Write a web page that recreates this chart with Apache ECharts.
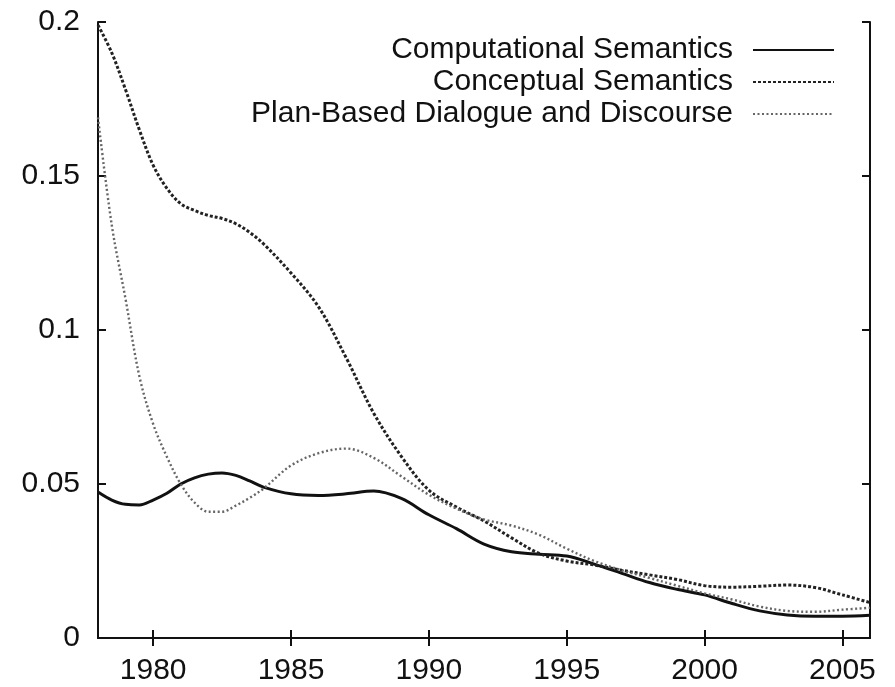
<!DOCTYPE html>
<html>
<head>
<meta charset="utf-8">
<script src="https://cdn.jsdelivr.net/npm/echarts@6/dist/echarts.min.js"></script>
<style>
  html, body { margin: 0; padding: 0; background: #fff; }
  #chart { width: 895px; height: 687px; }
</style>
</head>
<body>
<div id="chart"></div>
<script>
// years sampled along the curves
const years = [1978, 1978.5, 1979, 1979.5, 1980, 1980.5, 1981, 1981.5, 1982, 1982.5, 1983, 1983.5, 1984,
  1985, 1986, 1987, 1988, 1989, 1990, 1991, 1992, 1993, 1994, 1995, 1996, 1997, 1998, 1999, 2000,
  2001, 2002, 2003, 2004, 2005, 2006];
const computational = [0.0474, 0.0448, 0.0434, 0.0432, 0.0448, 0.047, 0.050, 0.052, 0.0532, 0.0536, 0.0528, 0.051, 0.049,
  0.0468, 0.0463, 0.0468, 0.0477, 0.0453, 0.040, 0.0355, 0.0305, 0.028, 0.0272, 0.0266, 0.024, 0.021, 0.018, 0.0158, 0.014,
  0.0112, 0.0088, 0.0075, 0.0071, 0.0071, 0.0074];
const conceptual = [0.199, 0.190, 0.178, 0.165, 0.1535, 0.146, 0.141, 0.1388, 0.1372, 0.1362, 0.1345, 0.1317, 0.128,
  0.1185, 0.1075, 0.091, 0.073, 0.059, 0.048, 0.0425, 0.038, 0.0325, 0.0275, 0.025, 0.0237, 0.022, 0.0205, 0.019, 0.017,
  0.0165, 0.0168, 0.0172, 0.0164, 0.014, 0.0115];
const planBased = [0.169, 0.134, 0.110, 0.085, 0.0695, 0.0588, 0.050, 0.044, 0.041, 0.041, 0.043, 0.0455, 0.0485,
  0.056, 0.060, 0.0615, 0.0585, 0.0525, 0.0465, 0.042, 0.0385, 0.0365, 0.0335, 0.029, 0.025, 0.022, 0.0195, 0.017, 0.0145,
  0.0125, 0.0102, 0.0088, 0.0085, 0.0092, 0.0098];
const seriesNames = ['Computational Semantics', 'Conceptual Semantics', 'Plan-Based Dialogue and Discourse'];
const xTicks = [1980, 1985, 1990, 1995, 2000, 2005];

const pairs = (vals) => years.map((y, i) => [y, vals[i]]);
const font = 'Liberation Sans, Arial, Helvetica, sans-serif';

const myChart = echarts.init(document.getElementById('chart'));
const axisLine = { show: true, lineStyle: { color: '#111', width: 2 } };
const tick = { show: true, inside: true, length: 8, lineStyle: { color: '#111', width: 2 } };

let option = {
  animation: false,
  backgroundColor: '#fff',
  grid: { left: 98, right: 25, top: 22, bottom: 49 },
  legend: {
    orient: 'vertical', right: 55, top: 29, align: 'right',
    itemWidth: 81, itemHeight: 10, itemGap: 0,
    itemStyle: { opacity: 0 },
    textStyle: { fontFamily: font, fontSize: 30, color: '#111', lineHeight: 32, padding: [0, 15, 0, 0] },
    data: seriesNames
  },
  xAxis: [
    {
      type: 'value', min: 1978, max: 2006,
      axisLine: axisLine, splitLine: { show: false },
      axisTick: Object.assign({ customValues: xTicks }, tick),
      axisLabel: { customValues: xTicks, formatter: (v) => String(v), color: '#111', fontFamily: font, fontSize: 30, margin: 18 }
    },
    {
      type: 'value', min: 1978, max: 2006, position: 'top',
      axisLine: axisLine, splitLine: { show: false },
      axisTick: Object.assign({ customValues: xTicks }, tick),
      axisLabel: { show: false }
    }
  ],
  yAxis: [
    {
      type: 'value', min: 0, max: 0.2, interval: 0.05,
      axisLine: axisLine, splitLine: { show: false }, axisTick: tick,
      axisLabel: { color: '#111', fontFamily: font, fontSize: 30, margin: 18 }
    },
    {
      type: 'value', min: 0, max: 0.2, interval: 0.05, position: 'right',
      axisLine: axisLine, splitLine: { show: false }, axisTick: tick,
      axisLabel: { show: false }
    }
  ],
  series: [
    {
      name: seriesNames[0], type: 'line', smooth: 0.35, symbol: 'none',
      lineStyle: { color: '#111', width: 3, type: 'solid' }, itemStyle: { color: '#111' },
      data: pairs(computational)
    },
    {
      name: seriesNames[1], type: 'line', smooth: 0.35, symbol: 'none',
      lineStyle: { color: '#222', width: 3, type: [3, 2] }, itemStyle: { color: '#222' },
      data: pairs(conceptual)
    },
    {
      name: seriesNames[2], type: 'line', smooth: 0.35, symbol: 'none',
      lineStyle: { color: '#666', width: 2.4, type: [2, 2.5] }, itemStyle: { color: '#666' },
      data: pairs(planBased)
    }
  ]
};
option && myChart.setOption(option);
</script>
</body>
</html>
